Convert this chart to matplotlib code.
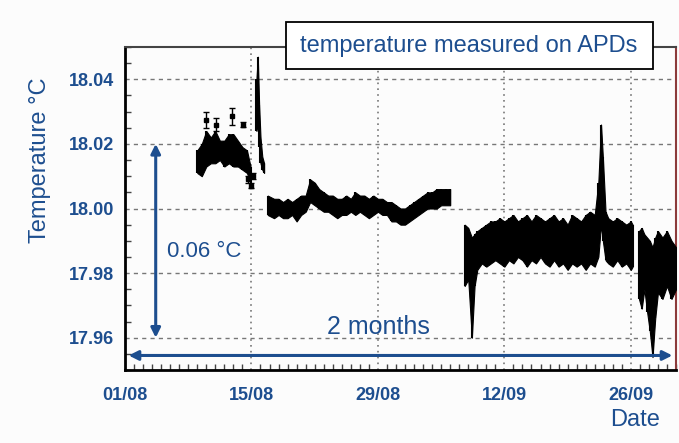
import numpy as np
import matplotlib
matplotlib.use("Agg")
import matplotlib.pyplot as plt
from matplotlib.patches import Rectangle
from matplotlib.ticker import MultipleLocator, FixedLocator

# days counted from 01/08
tick_days = [0, 14, 28, 42, 56]
tick_labels = ["01/08", "15/08", "29/08", "12/09", "26/09"]
y_ticks = [17.96, 17.98, 18.00, 18.02, 18.04]

# first plateau (before the spike)
seg_a_day = [8.0, 8.5, 9.0, 9.5, 10.0, 10.5, 11.0, 11.5, 12.0, 12.5, 13.0, 13.5, 13.9]
seg_a_lo = [18.011, 18.010, 18.013, 18.014, 18.014, 18.015, 18.013, 18.014, 18.013, 18.013, 18.012, 18.011, 18.008]
seg_a_hi = [18.018, 18.020, 18.024, 18.022, 18.024, 18.021, 18.021, 18.023, 18.023, 18.021, 18.019, 18.018, 18.013]

# spike around 15/08
seg_b_day = [14.55, 14.7, 14.85, 15.0, 15.2, 15.4]
seg_b_lo = [18.024, 18.026, 18.019, 18.014, 18.012, 18.011]
seg_b_hi = [18.040, 18.047, 18.032, 18.022, 18.016, 18.014]

# isolated points with error bars
pt_day = [9.0, 10.1, 11.8, 13.1, 13.6, 14.0, 14.2]
pt_val = [18.0275, 18.0260, 18.0285, 18.0260, 18.0090, 18.0070, 18.0100]
pt_err = [0.0025, 0.0020, 0.0025, 0.0008, 0.0010, 0.0008, 0.0010]

# second plateau
seg_c_day = [15.8, 16.5, 17.0, 17.5, 18.0, 18.5, 19.0, 19.5, 20.0, 20.5, 21.0, 21.5,
             22.0, 22.5, 23.0, 23.5, 24.0, 24.5, 25.0, 25.5, 26.0, 26.5, 27.0, 27.5,
             28.0, 28.5, 29.0, 29.5, 30.0, 30.5, 31.0, 31.5, 32.0, 32.5, 33.0, 33.5,
             34.0, 34.5, 35.0, 35.5, 36.0]
seg_c_lo = [17.998, 17.997, 17.998, 17.997, 17.997, 17.998, 17.996, 17.998, 17.999, 18.002, 18.001, 18.000,
            17.999, 17.999, 17.998, 17.997, 17.998, 17.998, 17.999, 17.998, 17.999, 17.998, 17.997, 17.998,
            17.999, 17.998, 17.998, 17.996, 17.996, 17.995, 17.995, 17.996, 17.997, 17.998, 17.999, 18.000,
            18.000, 18.000, 18.001, 18.001, 18.001]
seg_c_hi = [18.004, 18.003, 18.003, 18.002, 18.003, 18.002, 18.003, 18.004, 18.004, 18.009, 18.008, 18.006,
            18.005, 18.004, 18.004, 18.003, 18.003, 18.004, 18.003, 18.005, 18.004, 18.004, 18.003, 18.004,
            18.003, 18.003, 18.002, 18.002, 18.001, 18.000, 18.000, 18.001, 18.002, 18.003, 18.004, 18.005,
            18.005, 18.006, 18.006, 18.006, 18.006]

# third period (september)
seg_d_day = [37.6, 38.0, 38.4, 38.7, 39.0, 39.5, 40.0, 40.5, 41.0, 41.5, 42.0, 42.5, 43.0, 43.5,
             44.0, 44.5, 45.0, 45.5, 46.0, 46.5, 47.0, 47.5, 48.0, 48.5, 49.0, 49.5, 50.0, 50.5,
             51.0, 51.5, 52.0, 52.4, 52.7, 52.9, 53.2, 53.5, 54.0, 54.5, 55.0, 55.5, 56.0, 56.2]
seg_d_lo = [17.976, 17.978, 17.960, 17.976, 17.981, 17.983, 17.982, 17.983, 17.984, 17.983, 17.982, 17.984, 17.983, 17.985,
            17.984, 17.982, 17.984, 17.983, 17.985, 17.983, 17.982, 17.984, 17.982, 17.983, 17.981, 17.983, 17.982, 17.983,
            17.981, 17.983, 17.982, 17.985, 17.995, 17.990, 17.984, 17.983, 17.982, 17.984, 17.982, 17.983, 17.981, 17.982]
seg_d_hi = [17.995, 17.994, 17.991, 17.992, 17.993, 17.994, 17.995, 17.996, 17.996, 17.997, 17.996, 17.997, 17.998, 17.996,
            17.997, 17.998, 17.996, 17.998, 17.997, 17.996, 17.997, 17.998, 17.996, 17.997, 17.995, 17.998, 17.997, 17.996,
            17.998, 17.999, 17.998, 18.008, 18.026, 18.016, 17.999, 17.997, 17.996, 17.997, 17.996, 17.995, 17.996, 17.995]

seg_e_day = [56.9, 57.2, 57.5, 57.8, 58.1, 58.4, 58.7, 59.0, 59.5, 60.0, 60.5, 61.0]
seg_e_lo = [17.972, 17.969, 17.975, 17.968, 17.962, 17.954, 17.966, 17.974, 17.972, 17.976, 17.972, 17.975]
seg_e_hi = [17.993, 17.994, 17.992, 17.991, 17.990, 17.988, 17.991, 17.993, 17.991, 17.993, 17.990, 17.988]

blue = "#1d4e8f"
plt.rcParams["font.family"] = ["Liberation Sans", "DejaVu Sans"]

fig = plt.figure(figsize=(6.79, 4.43), dpi=100, facecolor="#fcfcfc")
ax = fig.add_axes([125 / 679, 73 / 443, 551 / 679, 323 / 443])
ax.set_facecolor("#fcfcfc")

for d, lo, hi in [(seg_a_day, seg_a_lo, seg_a_hi), (seg_b_day, seg_b_lo, seg_b_hi),
                  (seg_c_day, seg_c_lo, seg_c_hi), (seg_d_day, seg_d_lo, seg_d_hi),
                  (seg_e_day, seg_e_lo, seg_e_hi)]:
    ax.fill_between(d, lo, hi, color="black", lw=0.8, edgecolor="black", zorder=3)
    ax.vlines(d, lo, hi, color="black", lw=1.5, zorder=3)

ax.errorbar(pt_day, pt_val, yerr=pt_err, fmt="s", ms=3, color="black",
            ecolor="black", elinewidth=1, capsize=2, zorder=3)

ax.set_xlim(0, 61)
ax.set_ylim(17.95, 18.05)
ax.xaxis.set_major_locator(FixedLocator(tick_days))
ax.set_xticklabels(tick_labels)
ax.xaxis.set_minor_locator(MultipleLocator(1))
ax.yaxis.set_major_locator(FixedLocator(y_ticks))
ax.set_yticklabels([f"{v:.2f}" for v in y_ticks])
ax.yaxis.set_minor_locator(MultipleLocator(0.005))

ax.grid(True, axis="y", which="major", color="#777777", lw=1, ls=(0, (3, 3)))
ax.grid(True, axis="x", which="major", color="#777777", lw=1.2, ls=(0, (1, 2.5)))
ax.tick_params(axis="both", which="major", length=0, labelcolor=blue)
ax.tick_params(axis="y", which="major", pad=8)
ax.tick_params(axis="x", which="major", pad=12)
ax.tick_params(axis="both", which="minor", direction="in", length=4, width=1, color="#444444")
for lab in ax.get_xticklabels() + ax.get_yticklabels():
    lab.set_fontsize(13)
    lab.set_fontweight("bold")

ax.spines["left"].set_linewidth(2)
ax.spines["bottom"].set_linewidth(2)
ax.spines["top"].set_linewidth(1.5)
ax.spines["top"].set_color("#444444")
ax.spines["right"].set_linewidth(1.5)
ax.spines["right"].set_color("#8c3b3b")

# annotation arrows
ax.annotate("", xy=(3.4, 18.02), xytext=(3.4, 17.96),
            arrowprops=dict(arrowstyle="<|-|>", color=blue, lw=2.2, mutation_scale=14,
                            shrinkA=0, shrinkB=0), zorder=4)
ax.annotate("", xy=(0.4, 17.9545), xytext=(60.6, 17.9545),
            arrowprops=dict(arrowstyle="<|-|>", color=blue, lw=2.2, mutation_scale=14,
                            shrinkA=0, shrinkB=0), zorder=4)
ax.text(4.6, 17.9868, "0.06 °C", color=blue, fontsize=16,
        va="center", ha="left", zorder=4)
ax.text(28.1, 17.9634, "2 months", color=blue, fontsize=18, va="center", ha="center", zorder=4)

fig.text(40 / 679, 1 - 160 / 443, "Temperature °C", rotation=90, color=blue,
         fontsize=17, ha="center", va="center")
fig.text(635 / 679, 1 - 420 / 443, "Date", color=blue, fontsize=17,
         ha="center", va="center")

fig.patches.append(Rectangle((286 / 679, 1 - 69 / 443), 367 / 679, 47 / 443,
                             transform=fig.transFigure, facecolor="white",
                             edgecolor="black", lw=1.3, zorder=5))
fig.text(469 / 679, 1 - 46 / 443, "temperature measured on APDs", color=blue,
         fontsize=17, ha="center", va="center", zorder=6)

fig.savefig("out.png", dpi=100, facecolor=fig.get_facecolor())
